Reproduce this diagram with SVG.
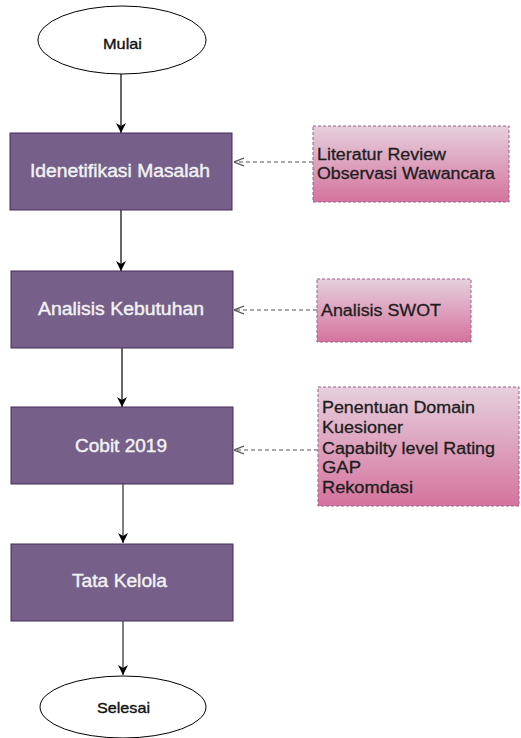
<svg xmlns="http://www.w3.org/2000/svg" width="521" height="738" viewBox="0 0 521 738">
<style>
.term{fill:#fff;stroke:#000;stroke-width:1}
.proc{fill:#76608a;stroke:#432d57;stroke-width:1}
.note{fill:url(#pink);stroke:#996185;stroke-width:1;stroke-dasharray:3 2}
.tt{font-family:"Liberation Sans",Arial,sans-serif;font-size:15px;fill:#111;stroke:#111;stroke-width:0.35}
.pt{font-family:"Liberation Sans",Arial,sans-serif;font-size:18px;fill:#f2f2f2;stroke:#f2f2f2;stroke-width:0.4}
.nt{font-family:"Liberation Sans",Arial,sans-serif;font-size:16px;fill:#1e1e1e;stroke:#1e1e1e;stroke-width:0.3}
.flow{stroke:#000;stroke-width:1.2;fill:none}
.flowg{stroke:#808080;stroke-width:2;fill:none}
.dash{stroke:#555;stroke-width:1.2;fill:none;stroke-dasharray:4 3}
</style>
<defs>
<linearGradient id="pink" x1="0" y1="0" x2="0" y2="1">
<stop offset="0" stop-color="#e6d0de"/>
<stop offset="1" stop-color="#d5739d"/>
</linearGradient>
<marker id="ah" viewBox="0 0 10 10" refX="10" refY="5" markerWidth="10" markerHeight="10" markerUnits="userSpaceOnUse" orient="auto">
<path d="M0,0 L10,5 L0,10 L3,5 Z" fill="#000"/>
</marker>
<marker id="oh" viewBox="0 0 10 10" refX="10" refY="5" markerWidth="10" markerHeight="10" markerUnits="userSpaceOnUse" orient="auto">
<path d="M0,1 L10,5 L0,9" fill="none" stroke="#555" stroke-width="1.3"/>
</marker>
</defs>
<g id="connectors">
<line class="flow" x1="121" y1="74" x2="121" y2="133" marker-end="url(#ah)"/>
<line class="flow" x1="121" y1="210" x2="121" y2="271" marker-end="url(#ah)"/>
<line class="flow" x1="122" y1="348" x2="122" y2="407" marker-end="url(#ah)"/>
<line class="flowg" x1="123" y1="484" x2="123" y2="543" marker-end="url(#ah)"/>
<line class="flowg" x1="123" y1="621" x2="123" y2="675" marker-end="url(#ah)"/>
<line class="dash" x1="313" y1="162" x2="234" y2="162" marker-end="url(#oh)"/>
<line class="dash" x1="317" y1="310" x2="234" y2="310" marker-end="url(#oh)"/>
<line class="dash" x1="318" y1="450" x2="234" y2="450" marker-end="url(#oh)"/>
</g>
<g id="mulai">
<ellipse class="term" cx="122" cy="40" rx="84" ry="34"/>
<text class="tt" x="103" y="49" textLength="39" lengthAdjust="spacingAndGlyphs">Mulai</text>
</g>
<g id="identifikasi">
<rect class="proc" x="10" y="133" width="222" height="77"/>
<text class="pt" x="30" y="177" textLength="180" lengthAdjust="spacingAndGlyphs">Idenetifikasi Masalah</text>
</g>
<g id="analisis">
<rect class="proc" x="11" y="271" width="222" height="77"/>
<text class="pt" x="38" y="315" textLength="166" lengthAdjust="spacingAndGlyphs">Analisis Kebutuhan</text>
</g>
<g id="cobit">
<rect class="proc" x="11" y="407" width="222" height="77"/>
<text class="pt" x="75" y="452" textLength="92" lengthAdjust="spacingAndGlyphs">Cobit 2019</text>
</g>
<g id="tatakelola">
<rect class="proc" x="11" y="544" width="222" height="77"/>
<text class="pt" x="72" y="587" textLength="95" lengthAdjust="spacingAndGlyphs">Tata Kelola</text>
</g>
<g id="selesai">
<ellipse class="term" cx="123" cy="707" rx="83" ry="31"/>
<text class="tt" x="97" y="713" textLength="53" lengthAdjust="spacingAndGlyphs">Selesai</text>
</g>
<g id="note1">
<rect class="note" x="313" y="126" width="196" height="76"/>
<text class="nt" x="317" y="160" textLength="129" lengthAdjust="spacingAndGlyphs">Literatur Review</text>
<text class="nt" x="317" y="179" textLength="178" lengthAdjust="spacingAndGlyphs">Observasi Wawancara</text>
</g>
<g id="note2">
<rect class="note" x="317" y="279" width="154" height="63"/>
<text class="nt" x="321" y="316" textLength="120" lengthAdjust="spacingAndGlyphs">Analisis SWOT</text>
</g>
<g id="note3">
<rect class="note" x="318" y="387" width="201" height="119"/>
<text class="nt" x="322" y="413" textLength="153" lengthAdjust="spacingAndGlyphs">Penentuan Domain</text>
<text class="nt" x="322" y="433" textLength="81" lengthAdjust="spacingAndGlyphs">Kuesioner</text>
<text class="nt" x="322" y="454" textLength="173" lengthAdjust="spacingAndGlyphs">Capabilty level Rating</text>
<text class="nt" x="322" y="473" textLength="39" lengthAdjust="spacingAndGlyphs">GAP</text>
<text class="nt" x="322" y="493" textLength="91" lengthAdjust="spacingAndGlyphs">Rekomdasi</text>
</g>
</svg>
